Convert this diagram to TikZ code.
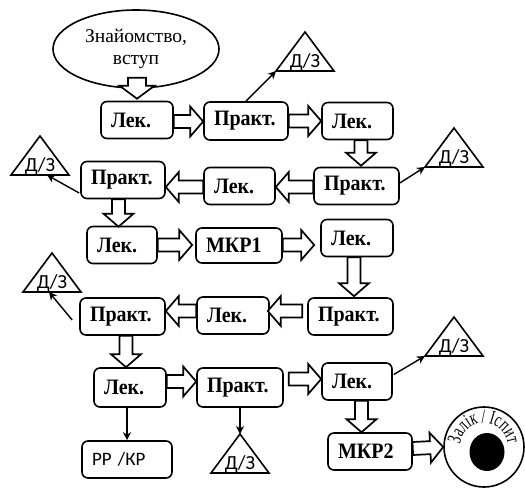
\documentclass[tikz,border=0pt]{standalone}
\usepackage{fontspec}
\setmainfont{Liberation Serif}
\newfontfamily\calfont{Carlito}
\newfontfamily\boxfont[FakeStretch=0.91]{Liberation Serif}
\newfontfamily\ringfont[FakeStretch=0.66]{Liberation Serif}
\usetikzlibrary{shapes.geometric,arrows.meta,calc,decorations.text}

\tikzset{
  box/.style={draw, line width=1.6pt, rounded corners=6pt, fill=white, align=left,
    inner xsep=10pt, inner ysep=0pt, minimum height=37pt,
    font=\boxfont\fontsize{22}{22}\selectfont\bfseries},
  sbox/.style={box, font=\calfont\fontsize{19}{19}\selectfont},
  blk/.style={draw, line width=1.7pt, fill=white, line join=miter},
  tri/.style={draw, line width=1.6pt, line join=miter},
  dzt/.style={font=\calfont\fontsize{20}{20}\selectfont, inner sep=0pt, anchor=base},
  conn/.style={line width=1.4pt, -{Stealth[length=8pt,width=8pt,inset=2.5pt]}},
}

% hollow block arrow from #2 to #3, optional shaft half-width #1
\newcommand\blockarrow[3][6.5]{%
  \pgfmathsetmacro\bhw{#1+8.5}%
  \path[blk] let \p1=(#2), \p2=(#3),
      \n1={atan2(\y2-\y1,\x2-\x1)}, \n2={veclen(\x2-\x1,\y2-\y1)} in
    ($(\p1)+({\n1+90}:#1pt)$)
    -- ($(\p1)+({\n1+90}:#1pt)+(\n1:{(\n2-13)*1pt})$)
    -- ($(\p1)+({\n1+90}:\bhw pt)+(\n1:{(\n2-13)*1pt})$)
    -- (\p2)
    -- ($(\p1)+({\n1-90}:\bhw pt)+(\n1:{(\n2-13)*1pt})$)
    -- ($(\p1)+({\n1-90}:#1pt)+(\n1:{(\n2-13)*1pt})$)
    -- ($(\p1)+({\n1-90}:#1pt)$) -- cycle;
}

% homework triangle: name, apex x, apex y
\newcommand\dz[3]{%
  \draw[tri] (#2,#3) -- ++(29,39) -- ++(-58,0) -- cycle;
  \coordinate (#1-a) at (#2,#3);
  \coordinate (#1-l) at ({#2-29},{#3+39});
  \node[dzt] (#1) at (#2,{#3+35}) {Д/З};
}

\begin{document}
\begin{tikzpicture}[x=1pt,y=-1pt]
\useasboundingbox (0,0) rectangle (525,491);

% start
\node[ellipse, draw, line width=1.6pt, minimum width=166pt, minimum height=78pt,
  inner sep=0pt, align=center, font=\fontsize{19.5}{22}\selectfont] (e) at (136,49)
  {Знайомство,\\вступ};

% lessons
\node[box, text width=52pt] (l1) at (137,120) {Лек.};
\node[box, text width=64pt, minimum height=38pt] (p1) at (246,121) {Практ.};
\node[box, text width=51pt] (l2) at (357.5,121) {Лек.};
\node[box, text width=65pt] (p2) at (356.5,186) {Практ.};
\node[box, text width=51pt] (l3) at (239.5,186) {Лек.};
\node[box, text width=64pt] (p3) at (123,180) {Практ.};
\node[box, text width=50pt] (l4) at (122,245) {Лек.};
\node[box, text width=66pt, minimum height=35pt] (m1) at (239,245.5) {МКР1};
\node[box, text width=52pt] (l5) at (357,238) {Лек.};
\node[box, text width=65pt] (p4) at (350.5,316.5) {Практ.};
\node[box, text width=52pt] (l6) at (233,315.5) {Лек.};
\node[box, text width=65pt] (p5) at (122.5,316.5) {Практ.};
\node[box, text width=52pt, minimum height=39pt] (l7) at (130,387.5) {Лек.};
\node[box, text width=66pt, minimum height=39pt] (p6) at (240,387.5) {Практ.};
\node[sbox, text width=70pt] (rk) at (127,459.5) {РР /КР};
\node[box, text width=50pt] (l8) at (357,381.5) {Лек.};
\node[box, text width=64pt] (m2) at (370,451.5) {МКР2};

% final control
\node[circle, draw, line width=1.6pt, minimum size=80pt, inner sep=0pt] (c) at (484,447) {};
\node[ellipse, fill=black, minimum width=35pt, minimum height=38pt, inner sep=0pt] (core) at (487,452) {};
\path[decorate, decoration={text along path, text align=center,
    text={|\ringfont\fontsize{20}{20}\selectfont|Залік / Іспит}}]
  (c.center) ++(185:24pt) arc[start angle=185, end angle=-5, radius=24pt];

% homework
\dz{t1}{305}{32}
\dz{t2}{454}{128}
\dz{t3}{40}{136}
\dz{t4}{52}{253}
\dz{t5}{240}{434}
\dz{t6}{454}{317}

% block arrows
\blockarrow[9]{$(e.south)+(1,-11)$}{$(l1.north)+(0,-2)$}
\blockarrow{$(l1.east)+(0,1.5)$}{$(p1.west)+(0,0.5)$}
\blockarrow{p1.east}{l2.west}
\blockarrow{$(l2.south)+(3.5,0)$}{$(p2.north)+(4.5,-1)$}
\blockarrow{$(p2.west)+(0,1)$}{$(l3.east)+(0,1)$}
\blockarrow{$(l3.west)+(0,1)$}{$(p3.east)+(0,7)$}
\blockarrow{$(p3.south)+(-4.5,0)$}{$(l4.north)+(-3.5,1)$}
\blockarrow{l4.east}{$(m1.west)+(-3,-0.5)$}
\blockarrow{$(m1.east)+(0,-0.5)$}{$(l5.west)+(-6,7)$}
\blockarrow{$(l5.south)+(-3,0)$}{$(p4.north)+(3.5,-1)$}
\blockarrow{$(p4.west)+(-5,-5.5)$}{$(l6.east)+(-2,-4.5)$}
\blockarrow{$(l6.west)+(0,-4.5)$}{$(p5.east)+(0,-5.5)$}
\blockarrow{$(p5.south)+(3.5,0)$}{$(l7.north)+(-4,0)$}
\blockarrow{$(l7.east)+(0,-6)$}{$(p6.west)+(0,-6)$}
\blockarrow{$(p6.east)+(5,-8.5)$}{$(l8.west)+(0,-2.5)$}
\blockarrow{$(l8.south)+(4.5,0)$}{$(m2.north)+(-8.5,0)$}
\blockarrow{$(m2.east)+(0,-3)$}{c.west}

% homework links
\draw[conn] (p1.north) -- (t1-l);
\draw[conn] ($(p2.east)+(0,-3)$) -- (t2-l);
\draw[conn] ($(p3.west)+(-1,13)$) -- ($(t3-l)+(36,0)$);
\draw[conn] ($(p5.west)+(-7,3.5)$) -- ($(t4-l)+(26,0)$);
\draw[conn] (p6.south) -- (t5-a);
\draw[conn] ($(l8.east)+(1,-7)$) -- (t6-l);
\draw[conn] ($(l7.south)+(-3,0)$) -- (rk.north);
\end{tikzpicture}
\end{document}
